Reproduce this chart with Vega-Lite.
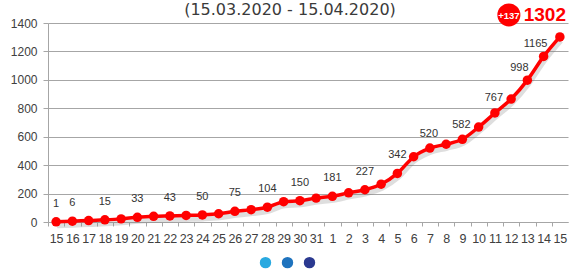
{
  "$schema": "https://vega.github.io/schema/vega-lite/v6.json",
  "width": 520,
  "height": 199,
  "autosize": {"type": "none"},
  "padding": {"left": 48, "top": 23, "right": 2, "bottom": 49},
  "background": "white",
  "config": {"view": {"stroke": null}},
  "title": {
    "text": "(15.03.2020 - 15.04.2020)",
    "font": "DejaVu Sans",
    "fontSize": 16,
    "fontWeight": "normal",
    "color": "#3a3a3a",
    "anchor": "middle",
    "dx": -18,
    "dy": 35,
    "baseline": "bottom",
    "offset": 4
  },
  "datasets": {
    "cases": [
      {"date": "2020-03-15", "v": 1, "lab": true},
      {"date": "2020-03-16", "v": 6, "lab": true},
      {"date": "2020-03-17", "v": 10, "lab": false},
      {"date": "2020-03-18", "v": 15, "lab": true},
      {"date": "2020-03-19", "v": 22, "lab": false},
      {"date": "2020-03-20", "v": 33, "lab": true},
      {"date": "2020-03-21", "v": 40, "lab": false},
      {"date": "2020-03-22", "v": 43, "lab": true},
      {"date": "2020-03-23", "v": 46, "lab": false},
      {"date": "2020-03-24", "v": 50, "lab": true},
      {"date": "2020-03-25", "v": 58, "lab": false},
      {"date": "2020-03-26", "v": 75, "lab": true},
      {"date": "2020-03-27", "v": 87, "lab": false},
      {"date": "2020-03-28", "v": 104, "lab": true},
      {"date": "2020-03-29", "v": 143, "lab": false},
      {"date": "2020-03-30", "v": 150, "lab": true},
      {"date": "2020-03-31", "v": 168, "lab": false},
      {"date": "2020-04-01", "v": 181, "lab": true},
      {"date": "2020-04-02", "v": 205, "lab": false},
      {"date": "2020-04-03", "v": 227, "lab": true},
      {"date": "2020-04-04", "v": 266, "lab": false},
      {"date": "2020-04-05", "v": 342, "lab": true},
      {"date": "2020-04-06", "v": 459, "lab": false},
      {"date": "2020-04-07", "v": 520, "lab": true},
      {"date": "2020-04-08", "v": 547, "lab": false},
      {"date": "2020-04-09", "v": 582, "lab": true},
      {"date": "2020-04-10", "v": 668, "lab": false},
      {"date": "2020-04-11", "v": 767, "lab": true},
      {"date": "2020-04-12", "v": 865, "lab": false},
      {"date": "2020-04-13", "v": 998, "lab": true},
      {"date": "2020-04-14", "v": 1165, "lab": true},
      {"date": "2020-04-15", "v": 1302, "lab": false}
    ],
    "slides": [{"s": "a"}, {"s": "b"}, {"s": "c"}]
  },
  "resolve": {"axis": {"x": "independent"}},
  "layer": [
    {
      "data": {"name": "cases"},
      "mark": {"type": "line", "interpolate": "monotone", "color": "#7a7a7a", "opacity": 0.25, "strokeWidth": 5, "yOffset": 4, "xOffset": 1},
      "encoding": {
        "x": {"field": "date", "type": "ordinal", "sort": null,
              "axis": {"labels": false, "domain": false, "ticks": true, "tickSize": 4, "tickColor": "#a6a6a6", "tickOffset": -8.125, "orient": "bottom", "title": null, "grid": false}},
        "y": {"field": "v", "type": "quantitative", "scale": {"domain": [0, 1400], "nice": false},
              "axis": {"title": null, "values": [0, 200, 400, 600, 800, 1000, 1200, 1400], "grid": true, "format": "d", "labelOverlap": false,
                       "gridColor": "#a6a6a6", "domainColor": "#a6a6a6", "tickColor": "#a6a6a6", "tickSize": 5,
                       "labelFont": "Liberation Sans", "labelFontSize": 12, "labelColor": "#404040", "labelPadding": 6}}
      }
    },
    {
      "data": {"name": "cases"},
      "mark": {"type": "line", "interpolate": "monotone", "color": "#ff0000", "strokeWidth": 3.5,
               "point": {"filled": true, "size": 90, "color": "#ff0000", "opacity": 1}},
      "encoding": {
        "x": {"field": "date", "type": "ordinal", "sort": null,
              "axis": {"title": null, "labelAngle": 0, "ticks": false, "domainColor": "#a6a6a6", "labelPadding": 10,
                       "labelFont": "Liberation Sans", "labelFontSize": 12.5, "labelColor": "#404040",
                       "labelExpr": "'' + toNumber(slice(datum.value, 8))", "orient": "bottom", "grid": false}},
        "y": {"field": "v", "type": "quantitative", "scale": {"domain": [0, 1400], "nice": false},
              "axis": {"title": null, "values": [0, 200, 400, 600, 800, 1000, 1200, 1400], "grid": true, "format": "d", "labelOverlap": false,
                       "gridColor": "#a6a6a6", "domainColor": "#a6a6a6", "tickColor": "#a6a6a6", "tickSize": 5,
                       "labelFont": "Liberation Sans", "labelFontSize": 12, "labelColor": "#404040", "labelPadding": 6}}
      }
    },
    {
      "data": {"name": "cases"},
      "transform": [{"filter": "datum.lab && datum.v < 400"}],
      "mark": {"type": "text", "dy": -18, "font": "Liberation Sans", "fontSize": 11, "color": "#333333", "baseline": "middle"},
      "encoding": {
        "x": {"field": "date", "type": "ordinal", "sort": null, "axis": null},
        "y": {"field": "v", "type": "quantitative",
              "axis": {"title": null, "values": [0, 200, 400, 600, 800, 1000, 1200, 1400], "grid": true, "format": "d", "labelOverlap": false,
                       "gridColor": "#a6a6a6", "domainColor": "#a6a6a6", "tickColor": "#a6a6a6", "tickSize": 5,
                       "labelFont": "Liberation Sans", "labelFontSize": 12, "labelColor": "#404040", "labelPadding": 6}},
        "text": {"field": "v"}
      }
    },
    {
      "data": {"name": "cases"},
      "transform": [{"filter": "datum.lab && datum.v >= 400 && datum.v < 900"}],
      "mark": {"type": "text", "dy": -14.5, "dx": -1, "font": "Liberation Sans", "fontSize": 11, "color": "#333333", "baseline": "middle"},
      "encoding": {
        "x": {"field": "date", "type": "ordinal", "sort": null, "axis": null},
        "y": {"field": "v", "type": "quantitative",
              "axis": {"title": null, "values": [0, 200, 400, 600, 800, 1000, 1200, 1400], "grid": true, "format": "d", "labelOverlap": false,
                       "gridColor": "#a6a6a6", "domainColor": "#a6a6a6", "tickColor": "#a6a6a6", "tickSize": 5,
                       "labelFont": "Liberation Sans", "labelFontSize": 12, "labelColor": "#404040", "labelPadding": 6}},
        "text": {"field": "v"}
      }
    },
    {
      "data": {"name": "cases"},
      "transform": [{"filter": "datum.lab && datum.v >= 900"}],
      "mark": {"type": "text", "dy": -12, "dx": -8, "font": "Liberation Sans", "fontSize": 11, "color": "#333333", "baseline": "middle"},
      "encoding": {
        "x": {"field": "date", "type": "ordinal", "sort": null, "axis": null},
        "y": {"field": "v", "type": "quantitative",
              "axis": {"title": null, "values": [0, 200, 400, 600, 800, 1000, 1200, 1400], "grid": true, "format": "d", "labelOverlap": false,
                       "gridColor": "#a6a6a6", "domainColor": "#a6a6a6", "tickColor": "#a6a6a6", "tickSize": 5,
                       "labelFont": "Liberation Sans", "labelFontSize": 12, "labelColor": "#404040", "labelPadding": 6}},
        "text": {"field": "v"}
      }
    },
    {
      "data": {"name": "cases"},
      "transform": [{"filter": "datum.date == '2020-04-15'"}],
      "mark": {"type": "point", "shape": "circle", "filled": true, "color": "#ff0000", "opacity": 1, "size": 530, "xOffset": -51, "yOffset": -22},
      "encoding": {
        "x": {"field": "date", "type": "ordinal", "sort": null, "axis": null},
        "y": {"field": "v", "type": "quantitative",
              "axis": {"title": null, "values": [0, 200, 400, 600, 800, 1000, 1200, 1400], "grid": true, "format": "d", "labelOverlap": false,
                       "gridColor": "#a6a6a6", "domainColor": "#a6a6a6", "tickColor": "#a6a6a6", "tickSize": 5,
                       "labelFont": "Liberation Sans", "labelFontSize": 12, "labelColor": "#404040", "labelPadding": 6}}
      }
    },
    {
      "data": {"name": "cases"},
      "transform": [{"filter": "datum.date == '2020-04-15'"}],
      "mark": {"type": "text", "text": "+137", "dx": -51, "dy": -21, "font": "Liberation Sans", "fontWeight": "bold", "fontSize": 9.5, "color": "white", "baseline": "middle", "align": "center"},
      "encoding": {
        "x": {"field": "date", "type": "ordinal", "sort": null, "axis": null},
        "y": {"field": "v", "type": "quantitative",
              "axis": {"title": null, "values": [0, 200, 400, 600, 800, 1000, 1200, 1400], "grid": true, "format": "d", "labelOverlap": false,
                       "gridColor": "#a6a6a6", "domainColor": "#a6a6a6", "tickColor": "#a6a6a6", "tickSize": 5,
                       "labelFont": "Liberation Sans", "labelFontSize": 12, "labelColor": "#404040", "labelPadding": 6}}
      }
    },
    {
      "data": {"name": "cases"},
      "transform": [{"filter": "datum.date == '2020-04-15'"}],
      "mark": {"type": "text", "dx": -15, "dy": -22, "font": "Liberation Sans", "fontWeight": "bold", "fontSize": 19, "color": "#ff0000", "baseline": "middle", "align": "center"},
      "encoding": {
        "x": {"field": "date", "type": "ordinal", "sort": null, "axis": null},
        "y": {"field": "v", "type": "quantitative",
              "axis": {"title": null, "values": [0, 200, 400, 600, 800, 1000, 1200, 1400], "grid": true, "format": "d", "labelOverlap": false,
                       "gridColor": "#a6a6a6", "domainColor": "#a6a6a6", "tickColor": "#a6a6a6", "tickSize": 5,
                       "labelFont": "Liberation Sans", "labelFontSize": 12, "labelColor": "#404040", "labelPadding": 6}},
        "text": {"field": "v"}
      }
    },
    {
      "data": {"name": "slides"},
      "mark": {"type": "point", "filled": true, "opacity": 0},
      "encoding": {
        "color": {"field": "s", "type": "nominal",
                  "scale": {"range": ["#29a9e0", "#1e73be", "#2b3990"]},
                  "legend": {"orient": "none", "legendX": 211.5, "legendY": 233.5, "direction": "horizontal",
                             "title": null, "labelExpr": "''", "symbolType": "circle", "symbolSize": 130,
                             "symbolOpacity": 1, "symbolStrokeWidth": 0, "columnPadding": 10, "labelOffset": 0,
                             "padding": 0}}
      }
    }
  ]
}
